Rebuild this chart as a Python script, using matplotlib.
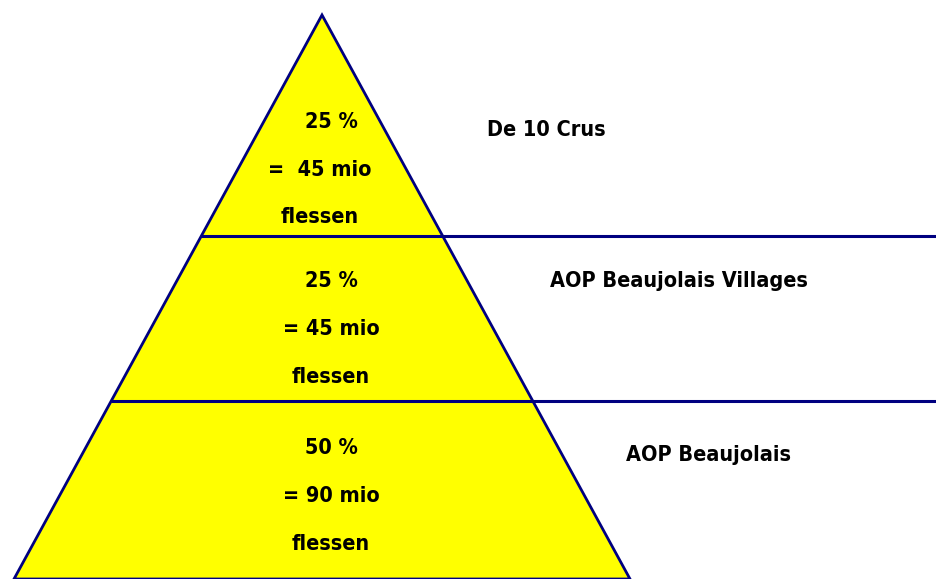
import matplotlib.pyplot as plt
from matplotlib.patches import Polygon

# pyramid tiers, top to bottom
shares = ["25 %", "25 %", "50 %"]
bottles = ["=  45 mio", "= 45 mio", "= 90 mio"]
names = ["De 10 Crus", "AOP Beaujolais Villages", "AOP Beaujolais"]

navy = "#000080"
yellow = "#ffff00"
plt.rcParams['font.family'] = ['DejaVu Sans']

fig = plt.figure(figsize=(9.36, 5.79), dpi=100)
ax = fig.add_axes([0, 0, 1, 1])
ax.set_xlim(0, 936)
ax.set_ylim(579, 0)
ax.axis("off")

# geometry in pixel space
apex = (322, 15)
base_y = 579
half = 308
cuts = [236, 401]

def edge_x(y, side):
    return apex[0] + side * half * (y - apex[1]) / (base_y - apex[1])

tri = Polygon([apex, (edge_x(base_y, -1), base_y), (edge_x(base_y, 1), base_y)],
              closed=True, facecolor=yellow, edgecolor=navy, lw=2, clip_on=False)
ax.add_patch(tri)

for y in cuts:
    ax.plot([edge_x(y, -1), 936], [y, y], color=navy, lw=2.2, solid_capstyle="butt")

# text positions
txt_x = [(331, 320, 320), (331, 331, 331), (331, 331, 331)]
txt_y = [(122, 170, 217), (281, 329, 377), (448, 496, 544)]
name_pos = [(487, 130), (550, 281), (626, 455)]

fs = 15.5
for i in range(3):
    lines = [shares[i], bottles[i], "flessen"]
    for j in range(3):
        ax.text(txt_x[i][j], txt_y[i][j], lines[j], ha="center", va="center",
                fontsize=fs, fontweight="bold", fontstretch="condensed", color="black")
    ax.text(name_pos[i][0], name_pos[i][1], names[i], ha="left", va="center",
            fontsize=fs, fontweight="bold", fontstretch="condensed", color="black")

fig.savefig("out.png", dpi=100)
